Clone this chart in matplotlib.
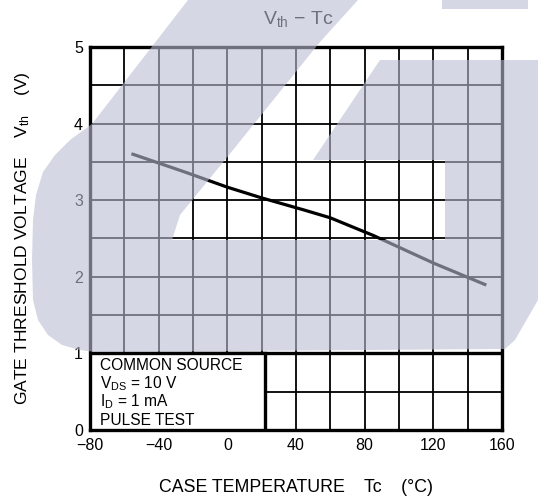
import matplotlib
matplotlib.use("Agg")
import matplotlib.pyplot as plt
from matplotlib.patches import Polygon, Rectangle
import numpy as np

plt.rcParams['font.family'] = ['Liberation Sans', 'DejaVu Sans']
plt.rcParams['mathtext.default'] = 'regular'

# curve
temps = [-55, -25, 0, 20, 45, 60, 85, 120, 150]
vth = [3.6, 3.37, 3.17, 3.03, 2.87, 2.77, 2.54, 2.18, 1.9]

x_ticks = [-80, -40, 0, 40, 80, 120, 160]
y_ticks = [0, 1, 2, 3, 4, 5]
notes = ["COMMON SOURCE", "V$_{DS}$ = 10 V", "I$_{D}$ = 1 mA", "PULSE TEST"]

W, H = 538, 501
fig = plt.figure(figsize=(W / 100, H / 100), dpi=100)
ax = fig.add_axes([90 / W, 1 - 430 / H, 412 / W, 383 / H])

ax.set_xlim(-80, 160)
ax.set_ylim(0, 5)
ax.set_xticks(x_ticks)
ax.set_yticks(y_ticks)
ax.set_xticks(np.arange(-80, 161, 20), minor=True)
ax.set_yticks(np.arange(0, 5.01, 0.5), minor=True)
ax.grid(which='both', color='black', lw=1.3)
ax.tick_params(which='both', length=0, labelsize=11.5)
ax.tick_params(axis='x', pad=6)
ax.tick_params(axis='y', pad=5)
for s in ax.spines.values():
    s.set_linewidth(2.4)
ax.axhline(1, color='black', lw=2.4)

# condition box in the lower left corner
ax.add_patch(Rectangle((-80, 0), 102, 1, facecolor='white', edgecolor='black',
                       lw=2.4, zorder=3))
for i, t in enumerate(notes):
    ax.text(-74, 0.785 - i * 0.24, t, fontsize=11.2, va='baseline', zorder=4)

ax.plot(temps, vth, color='black', lw=2.3, zorder=5)

ax.set_xlabel("CASE TEMPERATURE    Tc    (°C)", fontsize=12.8)
ax.xaxis.set_label_coords(0.5, -(488 - 430) / 383, transform=ax.transAxes)
ax.xaxis.label.set_va('center')
ax.set_ylabel("GATE THRESHOLD VOLTAGE    V$_{th}$    (V)", fontsize=12.6)
ax.yaxis.set_label_coords(-(90 - 23) / 412, 0.5)
ax.yaxis.label.set_va('center')
fig.text(298 / W, 1 - 19 / H, "V$_{th}$ − Tc", fontsize=14, ha='center', va='center')

# translucent watermark over the chart
wm = fig.add_axes([0, 0, 1, 1], zorder=10)
wm.set_xlim(0, W)
wm.set_ylim(H, 0)
wm.axis('off')
wm.patch.set_alpha(0)
wm_col = (185 / 255, 190 / 255, 210 / 255)
shape = [(188, 0), (358, 0), (320, 42), (233, 150), (180, 215), (172, 240), (445, 240),
         (445, 160), (313, 160), (380, 60), (538, 60), (538, 300), (515, 340),
         (505, 349), (95, 352), (80, 350), (62, 345), (48, 335), (38, 320),
         (33, 300), (32, 260), (33, 220), (36, 195), (43, 172), (55, 155),
         (70, 140), (92, 124)]
wm.add_patch(Polygon(shape, closed=True, facecolor=wm_col, alpha=0.6, lw=0))
wm.add_patch(Rectangle((442, 0), 86, 9, facecolor=wm_col, alpha=0.6, lw=0))

fig.savefig("out.png", dpi=100)
